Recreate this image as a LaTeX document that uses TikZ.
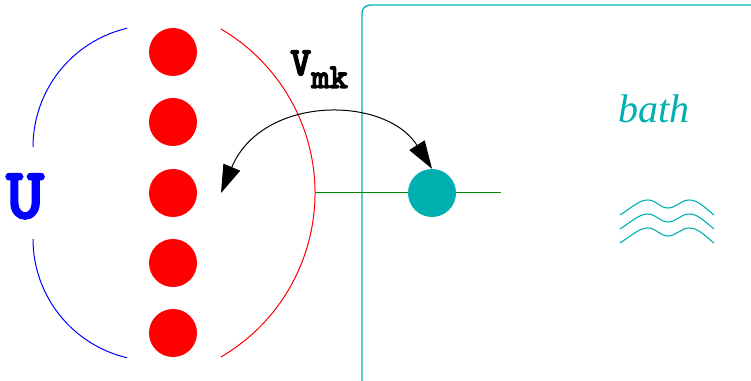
\documentclass[tikz,border=0pt]{standalone}
\usepackage{fontspec}
\newfontfamily\timesfont{Liberation Serif}
\newfontfamily\monob{lmmonolt10-bold}[Extension=.otf, FakeBold=3]
\usetikzlibrary{arrows.meta}
\definecolor{tealc}{RGB}{0,176,176}
\definecolor{greenc}{RGB}{0,140,0}
\tikzset{
  reddot/.style={circle, fill=red, draw=none, minimum size=48pt, inner sep=0pt},
  bathdot/.style={circle, fill=tealc, draw=none, minimum size=48pt, inner sep=0pt},
  wave/.style={draw=tealc, line width=1.1pt},
  tips/.style={{Triangle[length=28pt,width=18pt]}-{Triangle[length=28pt,width=18pt]}},
}
\begin{document}
\begin{tikzpicture}[x=1pt,y=1pt]
\clip (0,0) rectangle (751,380);
% bath box
\draw[tealc, line width=1.3pt, rounded corners=8pt] (362,-30) rectangle (800,375);
% arcs
\draw[red, line width=1pt] ([shift={(-59.7:190)}]125,187) arc[start angle=-59.7, end angle=59.7, radius=190];
\draw[blue, line width=1pt] ([shift={(103.2:122)}]155,233) arc[start angle=103.2, end angle=180, radius=122];
\draw[blue, line width=1pt] ([shift={(180:122)}]155,141) arc[start angle=180, end angle=256.8, radius=122];
% dots
\node[reddot] (d1) at (173,328) {};
\node[reddot] (d2) at (173,258) {};
\node[reddot] (d3) at (173,187) {};
\node[reddot] (d4) at (173,117) {};
\node[reddot] (d5) at (173,47) {};
% green line and bath dot
\coordinate (gl) at (315,187);
\coordinate (gr) at (501,187);
\draw[greenc, line width=1pt] (gl) -- (gr);
\node[bathdot] (k) at (432,187) {};
% coupling arrow
\coordinate (tgt) at (221,187);
\draw[line width=1pt, tips] (tgt) .. controls (262,285) and (385,285) .. (k.north);
% labels
\node[anchor=base west, inner sep=0pt, text=blue] (U) at (6,162) {\monob\fontsize{72}{72}\selectfont U};
\node[anchor=base west, inner sep=0pt] (V) at (290,305) {\monob\fontsize{40}{40}\selectfont V\raisebox{-13pt}{\fontsize{35}{35}\selectfont mk}};
\node[anchor=base west, inner sep=0pt, text=tealc] (bath) at (618,257) {\timesfont\itshape\fontsize{40}{40}\selectfont bath};
% waves
\foreach \dy in {0,14,28} {
  \draw[wave] (620,165-\dy) .. controls (635,175-\dy) and (640,180-\dy) .. (648,180-\dy)
     .. controls (656,180-\dy) and (660,172-\dy) .. (668,172-\dy)
     .. controls (676,172-\dy) and (681,180-\dy) .. (689,180-\dy)
     .. controls (697,180-\dy) and (702,175-\dy) .. (714,165-\dy);
}
\end{tikzpicture}
\end{document}
